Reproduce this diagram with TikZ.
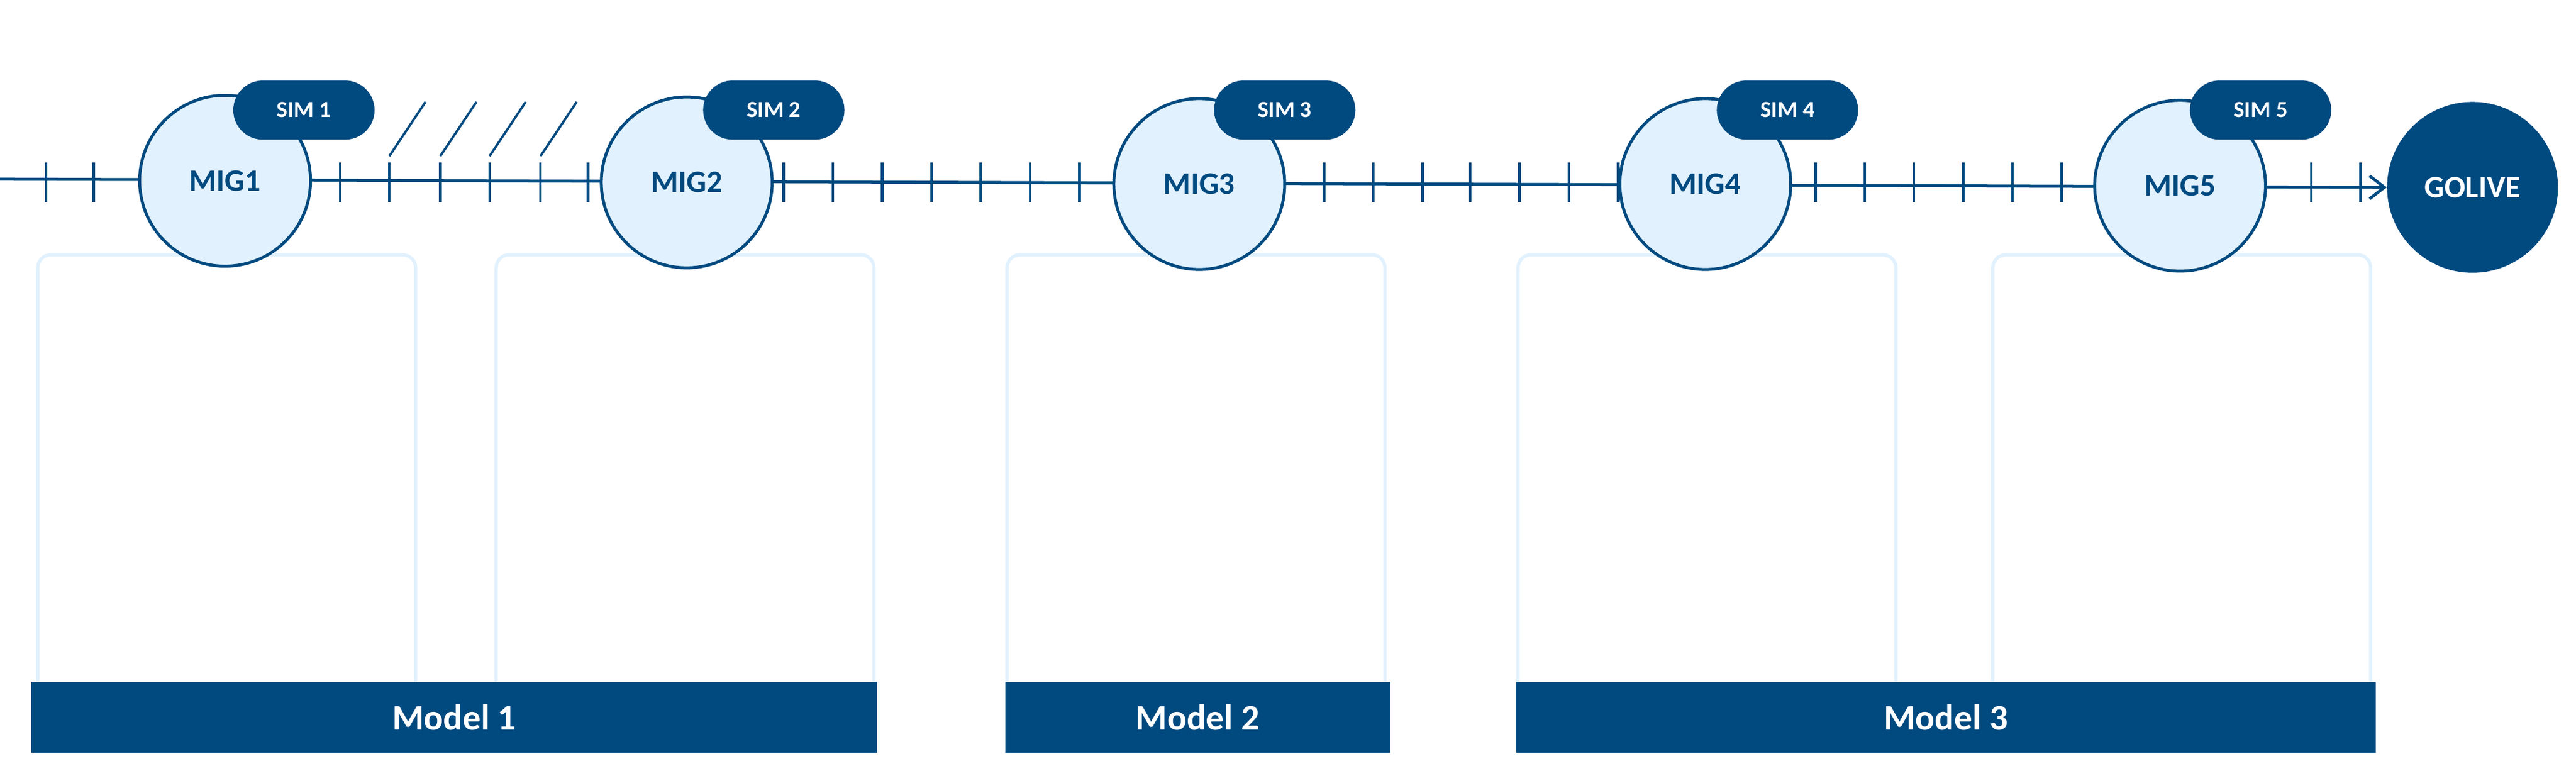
\documentclass[tikz,border=0pt]{standalone}
\usepackage{fontspec}
\setmainfont{Carlito}
\usetikzlibrary{arrows.meta}
\definecolor{dk}{HTML}{004A80}
\definecolor{lt}{HTML}{E1F1FD}
\begin{document}
\begin{tikzpicture}[x=1pt,y=-1pt,
  mig/.style={circle,draw=dk,fill=lt,line width=1.8pt,minimum size=104pt,inner sep=0,text=dk,font=\bfseries\fontsize{19}{19}\selectfont},
  sim/.style={rounded corners=18pt,fill=dk,minimum width=86pt,minimum height=36pt,inner sep=0,text=white,font=\bfseries\fontsize{14}{14}\selectfont},
  box/.style={draw=lt,line width=2pt,rounded corners=8pt},
  bar/.style={fill=dk,text=white,inner sep=0,minimum height=43pt,font=\bfseries\fontsize{22}{22}\selectfont},
  tk/.style={draw=dk,line width=1.6pt},
  ln/.style={draw=dk,line width=1.8pt}]
\useasboundingbox (0,0) rectangle (1568,469);
% boxes
\foreach \a/\b in {23/253,302/532,613/843,924/1154,1213/1443}
  \draw[box] (\a,415) -- (\a,155) -- (\b,155) -- (\b,415);
% bars
\node[bar,minimum width=515pt] (m1) at (276.5,436.5) {Model 1};
\node[bar,minimum width=234pt] (m2) at (729,436.5) {Model 2};
\node[bar,minimum width=523pt] (m3) at (1184.5,436.5) {Model 3};
% main line
\coordinate (start) at (0,109);
\node[circle,fill=dk,minimum size=104pt,inner sep=0,text=white,font=\bfseries\fontsize{19}{19}\selectfont] (go) at (1505,114) {GOLIVE};
\draw[ln,-{Straight Barb[length=9pt,width=14pt,line width=1.8pt]}] (start) -- (1452,114) -- (go.west);
% ticks
\foreach \x in {28,57,207,237,268,298,329,358,477,507,537,567,597,627,657,806,836,866,895,925,955,985,1105,1135,1165,1195,1225,1255,1407,1437}
  \draw[tk] (\x,99) -- (\x,123);
% slashes
\foreach \x in {237,268,298,329}
  \draw[dk,line width=1.4pt] (\x,95) -- (\x+22,62);
% circles
\foreach \n/\x/\y in {1/137/110,2/418/111,3/730/112,4/1038/112,5/1327/113}{
  \node[mig] (mig\n) at (\x,\y) {MIG\n};
}
\node[sim] (s1) at (185,67) {SIM 1};
\node[sim] (s2) at (471,67) {SIM 2};
\node[sim] (s3) at (782,67) {SIM 3};
\node[sim] (s4) at (1088,67) {SIM 4};
\node[sim] (s5) at (1376,67) {SIM 5};
\end{tikzpicture}
\end{document}
